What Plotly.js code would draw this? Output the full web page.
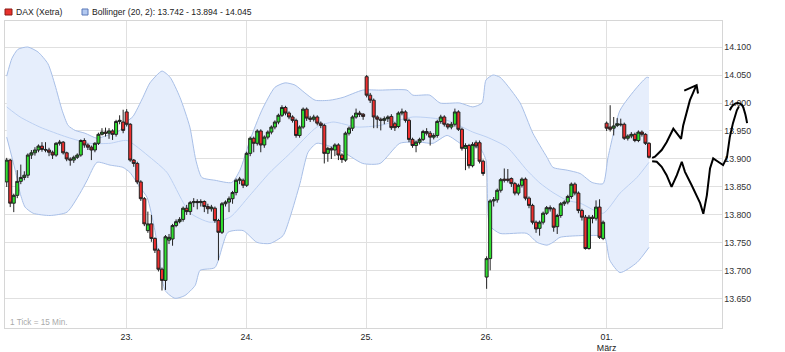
<!DOCTYPE html>
<html><head><meta charset="utf-8">
<script src="https://cdn.plot.ly/plotly-3.0.1.min.js"></script>
<style>html,body{margin:0;padding:0;background:#fff}#chart{width:785px;height:352px}</style>
</head><body><div id="chart"></div>
<script>
// x positions are candle indices (15-min candles, 34 per trading day)
const dayStartIndex = [0, 34, 68, 102, 136, 170];
const dayLabels = ['23.', '24.', '25.', '26.', '01.<br>März'];
const dayLabelIndex = [34, 68, 102, 136, 170];

const openPrices = [
// 22.
13859,13898,13821,13835,13860,13867,13871,13907,13911,13916,13923,13917,13916,13912,13907,13928,13930,13911,13900,13898,13903,13907,13933,13925,13921,13916,13928,13944,13948,13946,13950,13944,13967,13966,
// 23.
13984,13962,13898,13892,13859,13829,13772,13784,13758,13737,13703,13683,13755,13757,13781,13788,13792,13812,13806,13822,13824,13822,13824,13815,13811,13812,13790,13769,13820,13823,13829,13840,13862,13862,
// 24.
13853,13910,13937,13928,13950,13925,13939,13948,13957,13966,13978,13992,13982,13975,13969,13942,13957,13989,13973,13971,13975,13964,13960,13910,13919,13916,13925,13907,13898,13946,13955,13975,13982,13980,
// 25.
14047,14014,14005,13975,13971,13969,13972,13976,13963,13958,13982,13984,13969,13935,13924,13930,13935,13949,13946,13939,13942,13967,13975,13962,13957,13962,13984,13953,13919,13924,13888,13929,13929,13896,
// 26.
13689,13722,13825,13827,13844,13864,13864,13865,13856,13839,13853,13864,13830,13817,13787,13776,13787,13803,13813,13811,13779,13799,13820,13823,13833,13855,13839,13808,13796,13740,13796,13794,13814,13758,
// 01.
13964,13957,13955,13960,13961,13962,13937,13941,13944,13933,13948,13944,13928];
const closePrices = [
13898,13821,13835,13860,13867,13871,13907,13911,13916,13923,13917,13916,13912,13907,13928,13930,13911,13900,13898,13903,13907,13933,13925,13921,13916,13928,13944,13948,13946,13950,13944,13967,13969,13951,
13962,13898,13892,13859,13829,13784,13784,13758,13737,13703,13683,13761,13760,13781,13788,13792,13812,13806,13822,13824,13822,13824,13815,13811,13814,13790,13769,13820,13823,13829,13840,13862,13864,13853,
13910,13937,13928,13950,13925,13939,13948,13957,13966,13978,13992,13982,13975,13969,13942,13957,13989,13973,13971,13975,13964,13960,13910,13919,13916,13925,13907,13899,13946,13955,13975,13982,13980,13976,
14014,14005,13975,13971,13969,13972,13975,13956,13956,13982,13984,13969,13935,13924,13930,13935,13949,13946,13939,13942,13967,13975,13962,13957,13962,13984,13953,13919,13924,13888,13926,13923,13896,13874,
13722,13825,13827,13844,13863,13862,13862,13856,13839,13853,13864,13830,13817,13787,13775,13787,13803,13813,13811,13778,13799,13820,13823,13833,13855,13839,13808,13796,13740,13796,13794,13814,13760,13787,
13955,13953,13959,13963,13962,13937,13941,13944,13933,13948,13944,13928,13903];
const highPrices = [
13902,13900,13838,13880,13890,13878,13910,13916,13921,13926,13930,13930,13920,13915,13930,13934,13932,13913,13903,13906,13910,13935,13937,13928,13924,13930,13947,13955,13956,13955,13953,13970,13978,13988,
13989,13964,13900,13895,13862,13832,13806,13800,13760,13740,13706,13764,13766,13784,13792,13796,13815,13818,13825,13830,13828,13828,13826,13820,13818,13815,13793,13823,13826,13833,13843,13865,13868,13865,
13913,13940,13940,13953,13953,13942,13951,13960,13969,13981,13996,13995,13985,13978,13972,13960,13992,13992,13977,13979,13978,13967,13963,13922,13922,13928,13928,13910,13949,13958,13978,13990,13986,13982,
14050,14018,14008,13978,13974,13976,13978,13980,13966,13985,13990,13987,13972,13938,13933,13938,13952,13955,13950,13946,13970,13979,13978,13964,13966,13990,13987,13956,13928,13927,13930,13933,13933,13899,
13726,13828,13832,13847,13866,13883,13882,13867,13859,13856,13867,13867,13833,13820,13790,13790,13806,13816,13817,13814,13802,13823,13826,13836,13858,13858,13842,13811,13800,13800,13800,13826,13828,13790,
13967,13996,13975,13973,13972,13965,13944,13948,13947,13951,13951,13946,13930];
const lowPrices = [
13850,13814,13805,13830,13855,13862,13866,13900,13906,13912,13913,13912,13905,13900,13904,13924,13908,13896,13888,13893,13900,13904,13920,13916,13898,13912,13925,13942,13940,13936,13934,13940,13962,13946,
13958,13895,13886,13855,13825,13780,13768,13752,13732,13699,13665,13666,13748,13745,13778,13785,13788,13800,13800,13814,13810,13815,13805,13802,13806,13786,13719,13766,13815,13805,13820,13835,13855,13848,
13850,13905,13912,13924,13912,13920,13935,13944,13953,13962,13975,13978,13971,13965,13938,13938,13954,13968,13966,13967,13960,13955,13892,13895,13900,13905,13898,13893,13895,13942,13950,13972,13975,13970,
14010,14000,13955,13955,13951,13962,13966,13952,13950,13955,13978,13965,13930,13920,13912,13926,13932,13942,13924,13935,13938,13963,13958,13953,13953,13958,13950,13915,13880,13883,13885,13919,13892,13870,
13668,13701,13815,13822,13840,13858,13858,13850,13835,13835,13849,13826,13812,13783,13768,13763,13783,13800,13806,13770,13766,13795,13816,13819,13829,13835,13803,13790,13738,13738,13785,13790,13757,13755,
13950,13949,13942,13957,13958,13934,13933,13937,13930,13930,13940,13925,13901];

// Bollinger band lines (x = candle index, y = price)
const upperX = [0,1.5,3.2,6,8.9,11.7,13.7,15.7,17.4,19.4,22.2,25.6,28.4,32.1,34.1,35.8,38.6,40.6,44,46.3,49.1,51.9,53.6,55.3,59,63.8,66.1,68.9,72.3,76,78.9,81.7,84.5,87.4,91.6,95.3,100.9,105.8,113.4,115.1,119.9,122.8,128.4,132.1,134.7,135.8,137.8,139.8,141.8,145.5,149.1,153.1,154.8,158.8,162.5,165.9,169,170.4,173.8,178.6,181.4,182];
const upperY = [14048,14080,14096,14100,14091,14070,14032,13987,13960,13951,13946,13937,13942,13951,13967,13976,14010,14036,14057,14046,14010,13957,13898,13867,13862,13858,13880,13933,13987,14028,14036,14032,14018,14005,14005,14010,14023,14023,14023,14014,14014,14000,14000,13993,14000,14041,14050,14046,14032,14000,13946,13903,13885,13880,13874,13858,13856,13903,13987,14028,14046,14045];
const lowerX = [0,2.4,3.8,5.2,7.5,12.3,17.1,20.8,22.8,25.6,29.3,32.9,34.9,37.8,39.8,42,44.9,47.7,50.5,53.4,54.8,59,62.7,67,70.9,74.6,78.3,80.3,83.1,85.4,87.9,94.4,100.9,105.8,111.4,117.1,120.8,124.8,129.3,134.1,135.8,136.9,139.8,147.4,150.3,153.1,154.8,156.8,162.5,168.1,169.5,170.9,173.8,178.6,182];
const lowerY = [13939,13880,13839,13814,13803,13799,13805,13839,13862,13894,13889,13885,13876,13849,13831,13772,13665,13651,13656,13674,13701,13706,13769,13772,13751,13749,13763,13796,13856,13912,13928,13916,13892,13892,13928,13930,13928,13942,13925,13919,13898,13781,13767,13767,13751,13746,13751,13760,13763,13763,13760,13719,13697,13715,13742];
const middleX = [0,3.8,9.4,17.1,23.6,29.3,34.1,40.6,45.4,51.9,57.6,63.3,68.9,74.6,80.3,87.9,92.5,99.3,105.8,115.1,124.8,132.1,136.1,141.8,147.4,151.1,154.8,158.8,162.5,169,173.8,178.6,182];
const middleY = [13993,13975,13957,13939,13928,13928,13933,13903,13876,13804,13787,13796,13835,13876,13910,13957,13966,13957,13960,13975,13969,13948,13939,13921,13880,13857,13840,13826,13821,13803,13839,13867,13894];

// hand-drawn black strokes (x = candle index, y = price)
const strokeUpX = [182.9,183.7,185.6,187.0,188.9,190.3,191.1,191.7,192.7,193.6,194.5,195.3];
const strokeUpY = [13902,13904,13916,13930,13954,13942,13936,13960,13984,14005,14018,14030];
const arrowHeadX = [192.0,195.5,195.9];
const arrowHeadY = [14022,14032,14017];
const strokeDownX = [182.9,184.2,185.6,187.0,188.4,189.9,191.3,192.2,194.1,195.5,196.5,197.4,198.4,199.3,200.2,201.6,203.0,204.1,204.9,205.8,206.9,207.5];
const strokeDownY = [13896,13895,13886,13871,13850,13871,13895,13877,13853,13835,13821,13802,13835,13883,13901,13895,13889,13903,13939,13964,13987,13994];
const archX = [204.9,205.8,207.2,208.4,209.2,209.8];
const archY = [13987,13996,14000,13996,13982,13964];

const yTickVals = [13650,13700,13750,13800,13850,13900,13950,14000,14050,14100];
const yTickText = ['13.650','13.700','13.750','13.800','13.850','13.900','13.950','14.000','14.050','14.100'];

const candleX = openPrices.map((_, i) => i);

const bandLine = '#a8bfe7';
const traces = [
  {type:'scatter', mode:'lines', x: lowerX, y: lowerY, line:{color:bandLine, width:1, shape:'spline', smoothing:0.6}, hoverinfo:'skip', showlegend:false},
  {type:'scatter', mode:'lines', x: upperX, y: upperY, fill:'tonexty', fillcolor:'#e6eefc', line:{color:bandLine, width:1, shape:'spline', smoothing:0.6}, hoverinfo:'skip', showlegend:false},
  {type:'scatter', mode:'lines', x: middleX, y: middleY, line:{color:'#bcd0f2', width:1, shape:'spline', smoothing:0.6}, hoverinfo:'skip', showlegend:false},
  {type:'candlestick', x: candleX, open: openPrices, high: highPrices, low: lowPrices, close: closePrices,
   xaxis:'x3', yaxis:'y3',
   increasing:{line:{color:'#222', width:1}, fillcolor:'#2ee02e'},
   decreasing:{line:{color:'#222', width:1}, fillcolor:'#ee2e2e'},
   whiskerwidth:0, hoverinfo:'skip', showlegend:false},
  {type:'scatter', mode:'lines', x: strokeUpX, y: strokeUpY, xaxis:'x2', yaxis:'y2', line:{color:'#000', width:2}, hoverinfo:'skip', showlegend:false},
  {type:'scatter', mode:'lines', x: arrowHeadX, y: arrowHeadY, xaxis:'x2', yaxis:'y2', line:{color:'#000', width:2}, hoverinfo:'skip', showlegend:false},
  {type:'scatter', mode:'lines', x: strokeDownX, y: strokeDownY, xaxis:'x2', yaxis:'y2', line:{color:'#000', width:2}, hoverinfo:'skip', showlegend:false},
  {type:'scatter', mode:'lines', x: archX, y: archY, xaxis:'x2', yaxis:'y2', line:{color:'#000', width:2, shape:'spline'}, hoverinfo:'skip', showlegend:false}
];

const W = 780, H = 307; // plot area in px (margins l=5, r=0, t=21, b=24)
const px = v => (v - 5) / W;
const py = v => (328 - v) / H;
const yRange = [13598, 14146.5];
const xRange = [-0.48, 202.55];
const layout = {
  width: 785, height: 352,
  margin: {l:5, r:0, t:21, b:24},
  paper_bgcolor:'#fff', plot_bgcolor:'rgba(0,0,0,0)',
  font: {family:'"Liberation Sans", Arial, sans-serif', size:8.6, color:'#222'},
  showlegend:false,
  boxgap: 0.15, boxgroupgap: 0,
  xaxis: {domain:[0, 716.5/W], range: xRange, tickvals: dayLabelIndex, ticktext: dayLabels,
    showgrid:true, gridcolor:'#e0e0e0', gridwidth:1, zeroline:false, showline:true, mirror:true, linecolor:'#d6d6d6',
    ticks:'', tickfont:{size:8.8, color:'#222'}, rangeslider:{visible:false}, fixedrange:true},
  yaxis: {side:'right', range: yRange, tickvals: yTickVals, ticktext: yTickText, showgrid:true, gridcolor:'#e0e0e0',
    zeroline:false, showline:true, mirror:true, linecolor:'#d6d6d6', ticks:'', tickfont:{size:8.8, color:'#333'}, fixedrange:true},
  xaxis3: {overlaying:'x', anchor:'y3', range: xRange, visible:false, rangeslider:{visible:false}, fixedrange:true},
  yaxis3: {overlaying:'y', anchor:'x3', range: yRange, visible:false, fixedrange:true},
  xaxis2: {domain:[0,1], range:[-0.48, -0.48 + 780/3.529], visible:false, anchor:'y2', fixedrange:true},
  yaxis2: {domain:[0,1], range: yRange, visible:false, anchor:'x2', fixedrange:true},
  shapes: [
    {type:'rect', xref:'paper', yref:'paper', x0:px(5), x1:px(12), y0:py(15), y1:py(9), fillcolor:'#e8312b', line:{color:'#8a1a16', width:1}},
    {type:'rect', xref:'paper', yref:'paper', x0:px(82), x1:px(88), y0:py(15), y1:py(9), fillcolor:'#b3c9f0', line:{color:'#5a78b8', width:1}}
  ],
  annotations: [
    {xref:'paper', yref:'paper', x:px(14), y:py(12), xanchor:'left', yanchor:'middle', showarrow:false, text:'DAX (Xetra)', font:{size:8.6, color:'#222'}},
    {xref:'paper', yref:'paper', x:px(90), y:py(12), xanchor:'left', yanchor:'middle', showarrow:false, text:'Bollinger (20, 2): 13.742 - 13.894 - 14.045', font:{size:8.6, color:'#222'}},
    {xref:'paper', yref:'paper', x:px(8), y:py(322), xanchor:'left', yanchor:'middle', showarrow:false, text:'1 Tick = 15 Min.', font:{size:8.2, color:'#aaa'}}
  ]
};
Plotly.newPlot('chart', traces, layout, {displayModeBar:false, staticPlot:true});
</script>
</body></html>
